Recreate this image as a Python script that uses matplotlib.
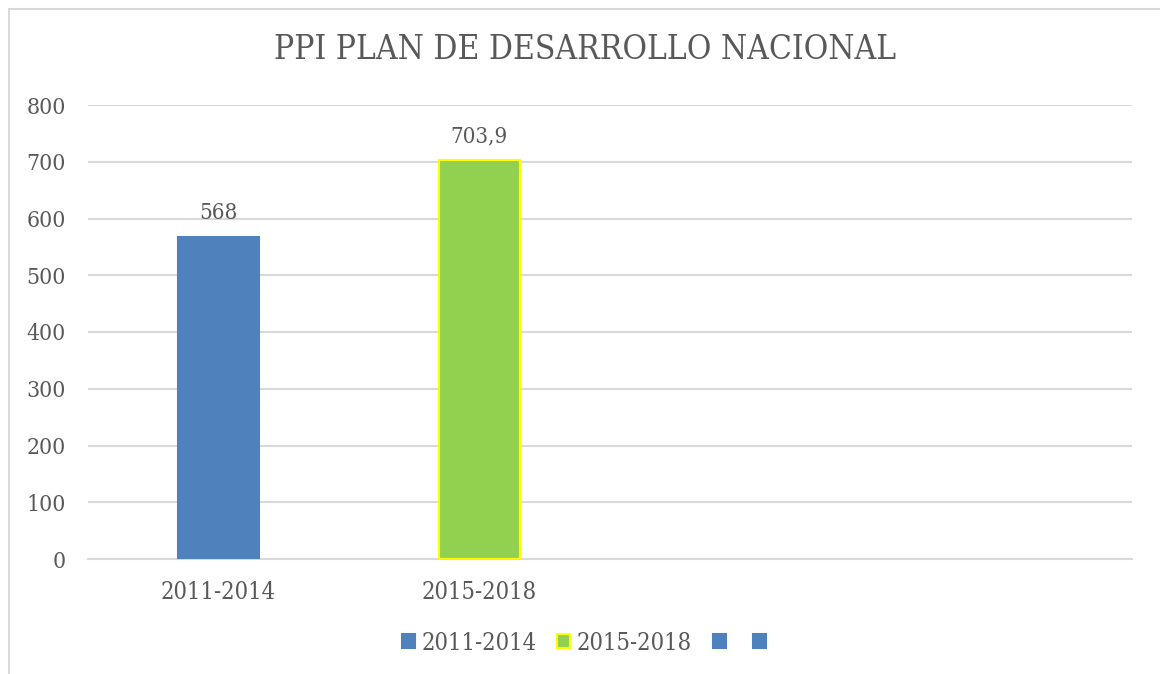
import matplotlib
matplotlib.use('Agg')
import matplotlib.pyplot as plt
from matplotlib.patches import Patch, Rectangle

# data
categories = ['2011-2014', '2015-2018', '', '']
values = [568, 703.9]
value_labels = ['568', '703,9']
bar_colors = ['#4F81BD', '#92D050']
edge_colors = ['#4F81BD', '#FFFF00']
legend_labels = ['2011-2014', '2015-2018', '', '']
legend_colors = ['#4F81BD', '#92D050', '#4F81BD', '#4F81BD']
legend_edges = ['#4F81BD', '#FFFF00', '#4F81BD', '#4F81BD']
yticks = [0, 100, 200, 300, 400, 500, 600, 700, 800]

TEXT = '#595959'
GRID = '#D9D9D9'
plt.rcParams['font.family'] = ['DejaVu Serif']
plt.rcParams['font.stretch'] = 'condensed'

fig = plt.figure(figsize=(11.6, 6.74), dpi=100)
ax = fig.add_axes([88 / 1160, 1 - 559 / 674, (1132 - 88) / 1160, (559 - 105) / 674])

x = list(range(len(values)))
ax.bar(x, values, width=0.31, color=bar_colors, edgecolor=edge_colors, linewidth=1.5, zorder=3)
for xi, v, lab in zip(x, values, value_labels):
    ax.text(xi, v + 22, lab, ha='center', va='bottom', fontsize=16, color=TEXT)

ax.set_xlim(-0.5, len(categories) - 0.5)
ax.set_ylim(0, 800)
ax.set_yticks(yticks)
ax.set_yticklabels([str(t) for t in yticks], fontsize=16.5, color=TEXT)
ax.set_xticks(range(len(categories)))
ax.set_xticklabels(categories, fontsize=17, color=TEXT)
ax.tick_params(axis='both', length=0)
ax.tick_params(axis='y', pad=16)
ax.tick_params(axis='x', pad=16)
ax.grid(axis='y', color=GRID, linewidth=1.5, zorder=0)
for s in ['top', 'right', 'left']:
    ax.spines[s].set_visible(False)
ax.spines['bottom'].set_color(GRID)
ax.spines['bottom'].set_linewidth(1.5)

fig.suptitle('PPI PLAN DE DESARROLLO NACIONAL', x=585 / 1160, y=1 - 50 / 674,
             va='center', fontsize=24, color=TEXT)

handles = [Patch(facecolor=c, edgecolor=e, linewidth=1.5) for c, e in zip(legend_colors, legend_edges)]
fig.legend(handles, legend_labels, loc='center', bbox_to_anchor=(587 / 1160, 1 - 643 / 674),
           ncol=4, frameon=False, fontsize=17, handlelength=0.55, handleheight=0.55,
           handletextpad=0.25, columnspacing=0.9, labelcolor=TEXT)

# chart area border
fig.patches.append(Rectangle((9 / 1160, -0.1), 1.2, 1.1 - 9 / 674, transform=fig.transFigure,
                             fill=False, edgecolor=GRID, linewidth=1.5))

fig.savefig('out.png', dpi=100)
